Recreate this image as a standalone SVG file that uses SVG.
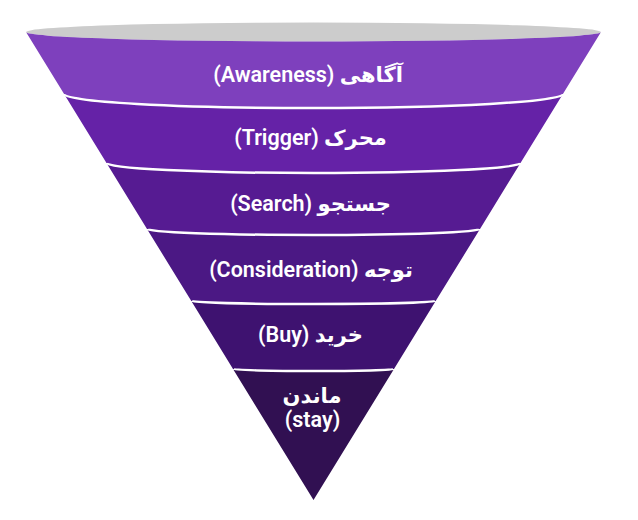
<svg xmlns="http://www.w3.org/2000/svg" width="638" height="520" viewBox="0 0 638 520">
<style>
.lbl{font-family:Roboto,"DejaVu Sans","Noto Sans",sans-serif;font-size:21.5px;font-weight:600;fill:#ffffff;text-anchor:middle}
.fa{font-family:"DejaVu Sans","Noto Sans",sans-serif;font-weight:700;font-size:21px}
.sep{fill:none;stroke:#ffffff;stroke-width:2.5}
</style>
<rect width="638" height="520" fill="#ffffff"/>
<ellipse id="rim" cx="313.5" cy="32" rx="287.5" ry="9.5" fill="#cccccc"/>
<g id="band-awareness">
<path d="M26,32 A287.5,9.5 0 0 0 601,32 L562.9,94 A249.4,14 0 0 1 64.1,94 Z" fill="#7e40bd"/>
<text class="lbl" x="308" y="82">(Awareness) <tspan class="fa">آگاهی</tspan></text>
</g>
<g id="band-trigger">
<path d="M64.1,94 A249.4,14 0 0 0 562.9,94 L520.5,163 A207,10 0 0 1 106.5,163 Z" fill="#6522a7"/>
<text class="lbl" x="310.5" y="145">(Trigger) <tspan class="fa">محرک</tspan></text>
</g>
<g id="band-search">
<path d="M106.5,163 A207,10 0 0 0 520.5,163 L480,229 A166.5,6 0 0 1 147,229 Z" fill="#561b92"/>
<text class="lbl" x="310.5" y="211">(Search) <tspan class="fa">جستجو</tspan></text>
</g>
<g id="band-consideration">
<path d="M147,229 A166.5,6 0 0 0 480,229 L435.7,301 A122.2,3 0 0 1 191.3,301 Z" fill="#4b1884"/>
<text class="lbl" x="311" y="277">(Consideration) <tspan class="fa">توجه</tspan></text>
</g>
<g id="band-buy">
<path d="M191.3,301 A122.2,3 0 0 0 435.7,301 L394,369 A80.5,2 0 0 1 233,369 Z" fill="#3e1270"/>
<text class="lbl" x="310.5" y="342">(Buy) <tspan class="fa">خرید</tspan></text>
</g>
<g id="band-stay">
<path d="M233,369 A80.5,2 0 0 0 394,369 L313.5,500 Z" fill="#311052"/>
<text class="lbl fa" x="312" y="403">ماندن</text>
<text class="lbl" x="312.5" y="427">(stay)</text>
</g>
<g id="separators">
<path class="sep" d="M64.1,94 A249.4,14 0 0 0 562.9,94"/>
<path class="sep" d="M106.5,163 A207,10 0 0 0 520.5,163"/>
<path class="sep" d="M147,229 A166.5,6 0 0 0 480,229"/>
<path class="sep" d="M191.3,301 A122.2,3 0 0 0 435.7,301"/>
<path class="sep" d="M233,369 A80.5,2 0 0 0 394,369"/>
</g>
</svg>
